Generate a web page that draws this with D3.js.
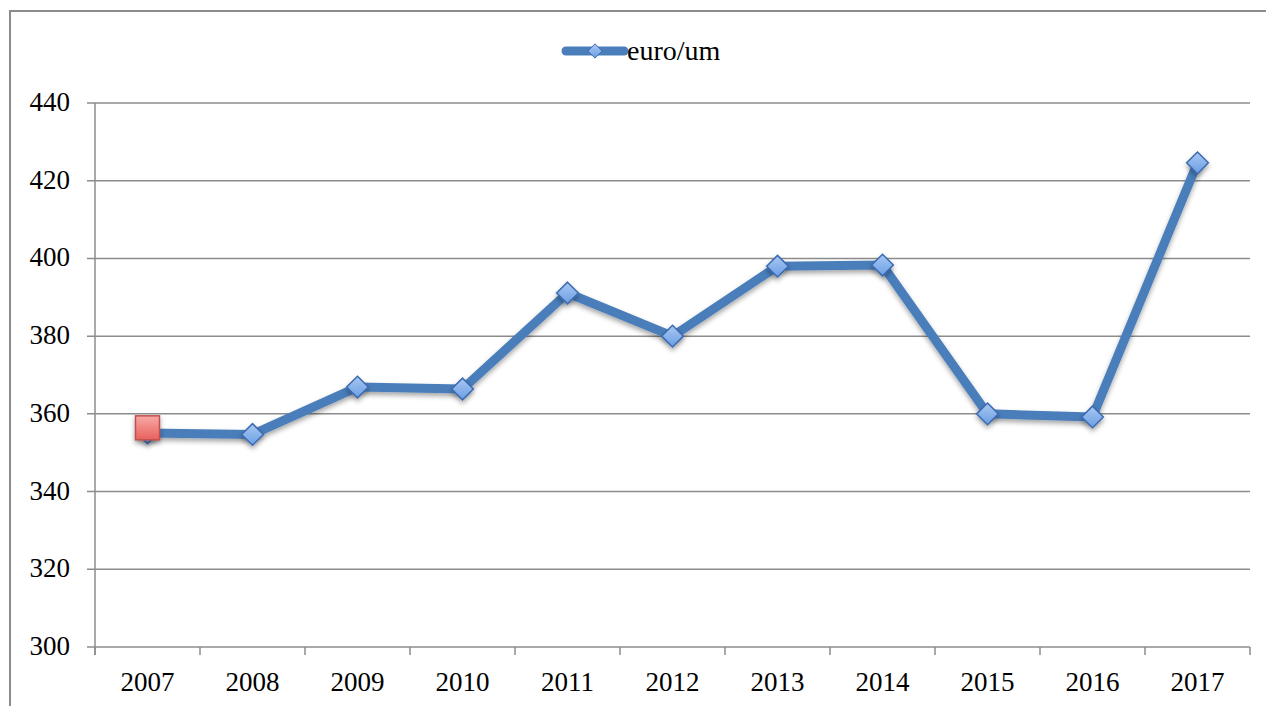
<!DOCTYPE html>
<html>
<head>
<meta charset="utf-8">
<script src="https://cdn.jsdelivr.net/npm/d3@7"></script>
<style>
  body { margin: 0; background: #fff; }
  text { font-family: "Liberation Serif", "DejaVu Serif", serif; fill: #000; }
</style>
</head>
<body>
<script>
var width = 1266, height = 706;

// data
var years = ["2007","2008","2009","2010","2011","2012","2013","2014","2015","2016","2017"];
var euroUm = [355.1, 354.7, 366.9, 366.4, 391.1, 380.0, 398.0, 398.3, 360.0, 359.2, 424.6];
var highlightYears = ["2007"];
var highlightValues = [356.4];
var yTicks = [300, 320, 340, 360, 380, 400, 420, 440];

var plotLeft = 95, plotRight = 1250, plotTop = 103, plotBottom = 647;

var xScale = d3.scaleBand()
  .domain(years)
  .range([plotLeft, plotRight]);

var yScale = d3.scaleLinear()
  .domain([300, 440])
  .range([plotBottom, plotTop]);

var svg = d3.select("body")
  .append("svg")
  .attr("width", width)
  .attr("height", height);

var defs = svg.append("defs");

var blueGrad = defs.append("linearGradient")
  .attr("id", "blueGrad")
  .attr("x1", 0).attr("y1", 0).attr("x2", 0).attr("y2", 1);
blueGrad.append("stop").attr("offset", "0%").attr("stop-color", "#a9c8f2");
blueGrad.append("stop").attr("offset", "100%").attr("stop-color", "#6b9ee4");

var redGrad = defs.append("linearGradient")
  .attr("id", "redGrad")
  .attr("x1", 0).attr("y1", 0).attr("x2", 0).attr("y2", 1);
redGrad.append("stop").attr("offset", "0%").attr("stop-color", "#f7a9a6");
redGrad.append("stop").attr("offset", "100%").attr("stop-color", "#e8615d");

var shadow = defs.append("filter")
  .attr("id", "shadow")
  .attr("x", "-50%").attr("y", "-50%")
  .attr("width", "200%").attr("height", "200%");
shadow.append("feDropShadow")
  .attr("dx", 0).attr("dy", 3)
  .attr("stdDeviation", 2.5)
  .attr("flood-color", "#000")
  .attr("flood-opacity", 0.35);

// outer chart border (left and top visible)
svg.append("path")
  .attr("d", "M10,706 L10,11 L1266,11")
  .attr("fill", "none")
  .attr("stroke", "#8c8c8c")
  .attr("stroke-width", 2);

// horizontal gridlines
svg.selectAll(".grid")
  .data(yTicks)
  .enter()
  .append("line")
  .attr("class", "grid")
  .attr("x1", plotLeft - 8)
  .attr("x2", plotRight)
  .attr("y1", function(d) { return yScale(d); })
  .attr("y2", function(d) { return yScale(d); })
  .attr("stroke", "#8c8c8c")
  .attr("stroke-width", 1.5);

// y axis line
svg.append("line")
  .attr("x1", plotLeft).attr("x2", plotLeft)
  .attr("y1", plotTop).attr("y2", plotBottom + 8)
  .attr("stroke", "#8c8c8c")
  .attr("stroke-width", 1.5);

// x tick marks at category boundaries
var boundaries = years.map(function(y) { return xScale(y); }).concat([plotRight]);
svg.selectAll(".xtick")
  .data(boundaries)
  .enter()
  .append("line")
  .attr("class", "xtick")
  .attr("x1", function(d) { return d; })
  .attr("x2", function(d) { return d; })
  .attr("y1", plotBottom)
  .attr("y2", plotBottom + 8)
  .attr("stroke", "#8c8c8c")
  .attr("stroke-width", 1.5);

// y labels
svg.selectAll(".ylabel")
  .data(yTicks)
  .enter()
  .append("text")
  .attr("class", "ylabel")
  .attr("x", 70)
  .attr("y", function(d) { return yScale(d) + 8; })
  .attr("text-anchor", "end")
  .attr("font-size", 27)
  .text(function(d) { return d; });

// x labels
svg.selectAll(".xlabel")
  .data(years)
  .enter()
  .append("text")
  .attr("class", "xlabel")
  .attr("x", function(d) { return xScale(d) + xScale.bandwidth() / 2; })
  .attr("y", 691)
  .attr("text-anchor", "middle")
  .attr("font-size", 27)
  .text(function(d) { return d; });

// series line
var line = d3.line()
  .x(function(d, i) { return xScale(years[i]) + xScale.bandwidth() / 2; })
  .y(function(d) { return yScale(d); });

svg.append("path")
  .datum(euroUm)
  .attr("d", line)
  .attr("fill", "none")
  .attr("stroke", "#4a7ebb")
  .attr("stroke-width", 9)
  .attr("stroke-linejoin", "round")
  .attr("filter", "url(#shadow)");

var diamond = d3.symbol().type(d3.symbolDiamond2).size(300);

svg.selectAll(".marker")
  .data(euroUm)
  .enter()
  .append("path")
  .attr("class", "marker")
  .attr("d", diamond)
  .attr("transform", function(d, i) {
    return "translate(" + (xScale(years[i]) + xScale.bandwidth() / 2) + "," + yScale(d) + ")";
  })
  .attr("fill", "url(#blueGrad)")
  .attr("stroke", "#3d6bb0")
  .attr("stroke-width", 1.5)
  .attr("filter", "url(#shadow)");

// single highlighted point
svg.selectAll(".hl")
  .data(highlightValues)
  .enter()
  .append("rect")
  .attr("class", "hl")
  .attr("x", function(d, i) { return xScale(highlightYears[i]) + xScale.bandwidth() / 2 - 12; })
  .attr("y", function(d) { return yScale(d) - 12; })
  .attr("width", 24)
  .attr("height", 24)
  .attr("fill", "url(#redGrad)")
  .attr("stroke", "#c0504d")
  .attr("stroke-width", 1.5)
  .attr("filter", "url(#shadow)");

// legend
var legend = svg.append("g").attr("transform", "translate(566,51)");
legend.append("line")
  .attr("x1", 0).attr("x2", 58)
  .attr("y1", 0).attr("y2", 0)
  .attr("stroke", "#4a7ebb")
  .attr("stroke-width", 9)
  .attr("stroke-linecap", "round");
legend.append("path")
  .attr("d", d3.symbol().type(d3.symbolDiamond2).size(130))
  .attr("transform", "translate(29,0)")
  .attr("fill", "url(#blueGrad)")
  .attr("stroke", "#3d6bb0")
  .attr("stroke-width", 1);
legend.append("text")
  .attr("x", 61)
  .attr("y", 9)
  .attr("font-size", 28)
  .text("euro/um");
</script>
</body>
</html>
